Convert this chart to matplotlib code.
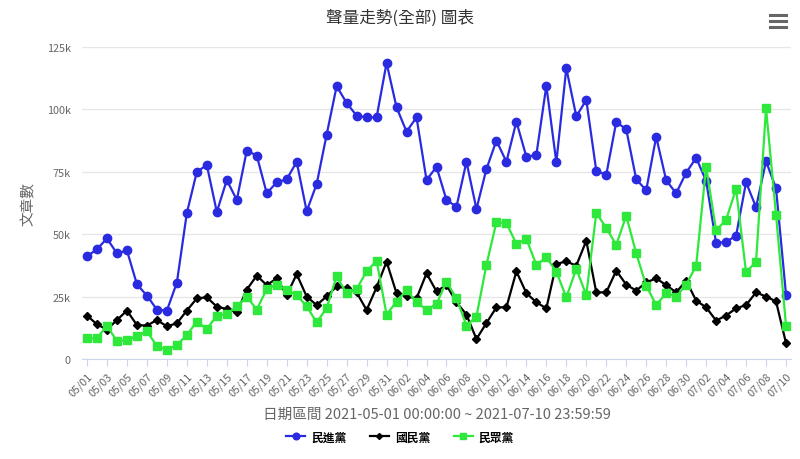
import numpy as np
import pandas as pd
import matplotlib
matplotlib.use('Agg')
import matplotlib.pyplot as plt
from matplotlib.ticker import FuncFormatter
from matplotlib.lines import Line2D

plt.rcParams['font.family'] = ['Noto Sans CJK TC', 'DejaVu Sans']

dates = pd.date_range('2021-05-01', '2021-07-10', freq='D')
labels = [d.strftime('%m/%d') for d in dates]

# values in thousands of articles
dpp = [41.1, 44, 48.3, 42.3, 43.5, 29.9, 25.4, 19.8, 19.4, 30.6,
       58.5, 75, 77.7, 58.9, 71.7, 63.7, 83.5, 81.5, 66.4, 70.8,
       72, 79, 59.2, 70.1, 89.9, 109.3, 102.6, 97.5, 96.8, 96.8,
       118.6,
       100.8, 91.1, 96.8, 71.7, 77, 63.7, 61, 79, 60.1, 76.1,
       87.5, 79, 95.1, 81, 81.8, 109.5, 78.8, 116.5, 97.2, 103.8,
       75.4, 73.8, 95, 92, 72, 67.6, 89, 71.6, 66.4, 74.6,
       80.6, 71.4, 46.5, 46.9, 49.4, 70.8, 60.8, 79.2, 68.4, 25.8]
kmt = [17.4, 13.9, 11.8, 15.6, 19.4, 13.6, 13.4, 15.6, 13.1, 14.3,
       19.4, 24.3, 24.7, 21, 20, 18.7, 27.8, 33.4, 29.6, 32.3,
       25.6, 34, 25, 21.6, 25.1, 29.1, 28.3, 26.7, 19.6, 28.7,
       39,
       26.3, 25.1, 24.3, 34.3, 27.1, 29.6, 22.7, 17.8, 8, 14.4,
       20.7, 20.7, 35.1, 26.4, 22.7, 20.3, 38.1, 39.1, 37.4, 47.4,
       26.7, 26.7, 35.4, 29.8, 27.4, 30.7, 32.3, 29.6, 26.7, 31.4,
       23.4, 20.7, 15.4, 17.4, 20.3, 21.6, 26.7, 25, 23.1, 6.4]
tpp = [8.3, 8.3, 13.4, 7.1, 7.6, 9.3, 11.1, 5.2, 3.7, 5.6,
       9.6, 15, 12, 17.4, 17.9, 21.1, 25, 19.8, 28, 29.8,
       27.6, 25.6, 21.1, 14.7, 20.4, 33.1, 26.3, 28, 35.1, 39.4,
       17.8,
       23, 27.6, 22.7, 19.8, 22, 31, 24.3, 13.4, 17, 37.7,
       54.8, 54.5, 46.1, 48.1, 37.7, 40.7, 35, 24.7, 36.1, 25.6,
       58.5, 52.5, 45.7, 57.4, 42.3, 29.4, 21.6, 26.4, 25, 29.8,
       37.3, 77, 51.5, 55.8, 68.1, 34.7, 39, 100.4, 57.8, 13.4]

series = [('民進黨', dpp, '#2a2ae0', 'o', 6.0),
          ('國民黨', kmt, '#000000', 'D', 3.8),
          ('民眾黨', tpp, '#2ee83c', 's', 5.2)]

fig = plt.figure(figsize=(8, 4.6), dpi=100)
ax = fig.add_axes([82/800, 1 - 360/460, 709/800, 312/460])

x = np.arange(len(labels))
for name, vals, col, mk, ms in series:
    ax.plot(x, np.array(vals) * 1000, color=col, lw=1.6, marker=mk,
            markersize=ms, label=name, zorder=3)

ax.set_xlim(-0.5, len(labels) - 0.5)
ax.set_ylim(0, 125000)
ax.set_yticks([0, 25000, 50000, 75000, 100000, 125000])
ax.yaxis.set_major_formatter(FuncFormatter(lambda v, p: '0' if v == 0 else '%dk' % (v / 1000)))
ax.grid(axis='y', color='#e6e6e6', lw=1)
ax.set_axisbelow(True)

ax.set_xticks(x[::2])
ax.set_xticklabels(labels[::2], rotation=45, ha='right', rotation_mode='anchor')
ax.tick_params(axis='x', colors='#666666', labelsize=7.8, length=5, color='#ccd6eb')
ax.tick_params(axis='x', labelcolor='#666666')
ax.tick_params(axis='y', length=0, labelsize=7.8, labelcolor='#666666', pad=8)

for s in ['top', 'right', 'left']:
    ax.spines[s].set_visible(False)
ax.spines['bottom'].set_color('#ccd6eb')

ax.set_ylabel('文章數', fontsize=10.5, color='#666666', labelpad=8)
ax.set_xlabel('日期區間 2021-05-01 00:00:00 ~ 2021-07-10 23:59:59',
              fontsize=10.5, color='#666666', labelpad=6)

fig.text(0.5, 1 - 18/460, '聲量走勢(全部) 圖表', ha='center', va='center',
         fontsize=12, color='#333333')

# menu icon
for yy in [16, 22, 28]:
    fig.add_artist(Line2D([770/800, 786/800], [1 - yy/460, 1 - yy/460],
                          color='#666666', lw=2.2))

handles = [Line2D([0], [0], color=c, lw=1.6, marker=m, markersize=ms * 0.8)
           for _, _, c, m, ms in series]
fig.legend(handles, [s[0] for s in series], loc='center',
           bbox_to_anchor=(0.5, 1 - 438/460), ncol=3, frameon=False,
           prop={'size': 8.5, 'weight': 'bold'}, handlelength=1.6,
           columnspacing=2.0, handletextpad=0.5)

fig.savefig('out.png', dpi=100)
